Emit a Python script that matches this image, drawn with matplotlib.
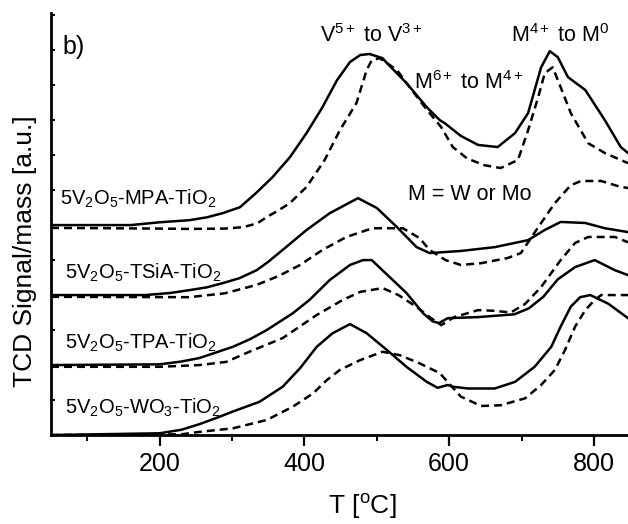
import matplotlib
matplotlib.use('Agg')
import matplotlib.pyplot as plt
from matplotlib.ticker import MultipleLocator, NullFormatter

plt.rcParams['font.family'] = ['Liberation Sans', 'DejaVu Sans']
plt.rcParams['mathtext.fontset'] = 'custom'
plt.rcParams['mathtext.rm'] = 'Liberation Sans'
plt.rcParams['mathtext.it'] = 'Liberation Sans:italic'
plt.rcParams['mathtext.bf'] = 'Liberation Sans:bold'

# TPR profiles (offset traces, arbitrary units)
mpa_x = [50, 160, 200, 241, 265, 287, 311, 334, 356, 380, 403, 425, 445, 463, 477, 490, 508, 514, 541, 569, 587, 594, 616, 640, 667, 691, 709, 727, 739, 750, 764, 788, 815, 837, 847]
mpa_y = [6.0, 6.0, 6.08, 6.14, 6.22, 6.34, 6.51, 6.93, 7.37, 7.94, 8.63, 9.37, 10.14, 10.66, 10.86, 10.89, 10.77, 10.63, 10.06, 9.37, 9.0, 8.91, 8.55, 8.29, 8.23, 8.63, 9.2, 10.51, 10.97, 10.8, 10.23, 9.86, 9.0, 8.23, 8.06]
mpa_dx = [50, 200, 241, 290, 315, 335, 348, 365, 380, 403, 428, 449, 472, 486, 493, 504, 528, 541, 569, 589, 605, 625, 649, 671, 695, 709, 723, 732, 743, 754, 768, 792, 815, 847]
mpa_dy = [5.92, 5.9, 5.89, 5.9, 5.94, 6.05, 6.23, 6.43, 6.63, 7.09, 7.86, 8.71, 9.49, 10.43, 10.71, 10.77, 10.43, 10.06, 9.3, 8.8, 8.23, 7.9, 7.71, 7.63, 7.86, 8.71, 9.66, 10.34, 10.51, 9.94, 9.2, 8.34, 8.06, 7.77]

tsia_x = [50, 180, 215, 241, 265, 287, 310, 334, 350, 370, 403, 435, 474, 500, 528, 555, 573, 616, 663, 709, 732, 754, 788, 815, 847]
tsia_y = [4.0, 4.0, 4.06, 4.14, 4.22, 4.34, 4.48, 4.71, 4.95, 5.29, 5.86, 6.34, 6.77, 6.49, 5.94, 5.37, 5.2, 5.26, 5.37, 5.57, 5.86, 6.09, 6.06, 5.91, 5.8]
tsia_dx = [50, 241, 290, 334, 365, 394, 425, 458, 494, 536, 559, 573, 595, 616, 644, 681, 699, 723, 746, 768, 782, 810, 837, 847]
tsia_dy = [3.95, 3.94, 4.05, 4.29, 4.55, 4.86, 5.29, 5.66, 5.91, 5.91, 5.63, 5.29, 5.0, 4.86, 4.91, 5.06, 5.2, 5.94, 6.63, 7.14, 7.26, 7.26, 7.09, 7.06]

tpa_x = [50, 200, 230, 255, 301, 325, 348, 384, 407, 435, 463, 481, 493, 518, 541, 564, 577, 586, 598, 640, 690, 710, 730, 750, 774, 801, 829, 847]
tpa_y = [2.0, 2.02, 2.1, 2.2, 2.52, 2.74, 3.0, 3.48, 3.86, 4.43, 4.86, 5.0, 5.0, 4.51, 4.06, 3.48, 3.25, 3.2, 3.34, 3.37, 3.45, 3.62, 3.95, 4.45, 4.8, 5.0, 4.71, 4.57]
tpa_dx = [50, 200, 255, 292, 324, 370, 417, 453, 477, 508, 530, 555, 573, 589, 607, 640, 663, 685, 705, 727, 754, 774, 792, 829, 847]
tpa_dy = [1.95, 1.95, 2.0, 2.09, 2.38, 2.77, 3.43, 3.86, 4.09, 4.2, 4.0, 3.66, 3.37, 3.14, 3.37, 3.57, 3.55, 3.5, 3.75, 4.23, 5.0, 5.49, 5.66, 5.66, 5.51]

wo3_x = [50, 200, 230, 255, 280, 301, 338, 370, 394, 417, 439, 463, 486, 514, 541, 569, 584, 598, 605, 626, 663, 691, 718, 741, 754, 768, 781, 795, 820, 847]
wo3_y = [0.0, 0.05, 0.15, 0.31, 0.5, 0.67, 0.95, 1.38, 1.91, 2.52, 2.91, 3.17, 2.91, 2.43, 1.95, 1.52, 1.35, 1.43, 1.38, 1.33, 1.33, 1.52, 1.95, 2.52, 3.1, 3.67, 3.94, 4.0, 3.75, 3.34]
wo3_dx = [50, 230, 255, 301, 348, 384, 412, 431, 449, 477, 508, 532, 559, 587, 616, 644, 671, 705, 727, 746, 760, 774, 788, 801, 810, 847]
wo3_dy = [0.0, 0.02, 0.09, 0.19, 0.43, 0.81, 1.19, 1.57, 1.86, 2.14, 2.38, 2.28, 2.05, 1.77, 1.1, 0.83, 0.85, 1.05, 1.43, 1.86, 2.43, 3.1, 3.57, 3.86, 4.0, 4.0]

samples = ['5V$_2$O$_5$-MPA-TiO$_2$', '5V$_2$O$_5$-TSiA-TiO$_2$',
           '5V$_2$O$_5$-TPA-TiO$_2$', '5V$_2$O$_5$-WO$_3$-TiO$_2$']
sample_pos = [(62, 6.57), (70, 4.46), (70, 2.46), (70, 0.6)]

fig = plt.figure(figsize=(6.28, 5.24), dpi=100)
ax = fig.add_axes([0.0812, 0.1698, 0.9188, 0.8053])

lw = 1.8
dash = (3.2, 2.0)
for sx, sy, dx, dy in [(mpa_x, mpa_y, mpa_dx, mpa_dy), (tsia_x, tsia_y, tsia_dx, tsia_dy),
                       (tpa_x, tpa_y, tpa_dx, tpa_dy), (wo3_x, wo3_y, wo3_dx, wo3_dy)]:
    ax.plot(sx, sy, color='black', lw=lw)
    ax.plot(dx, dy, color='black', lw=lw, ls=(0, dash))

for name, (tx, ty) in zip(samples, sample_pos):
    ax.text(tx, ty, name, fontsize=14.5, ha='left', va='baseline')

ax.text(493, 11.43, 'V$^{5+}$ to V$^{3+}$', fontsize=15.5, ha='center', va='center')
ax.text(753, 11.43, 'M$^{4+}$ to M$^{0}$', fontsize=15.5, ha='center', va='center')
ax.text(627, 10.06, 'M$^{6+}$ to M$^{4+}$', fontsize=15.5, ha='center', va='center')
ax.text(628, 6.86, 'M = W or Mo', fontsize=15.5, ha='center', va='center')
ax.text(66, 10.9, 'b)', fontsize=18, ha='left', va='baseline')

ax.set_xlim(50, 847)
ax.set_ylim(0, 12.06)
ax.xaxis.set_major_locator(MultipleLocator(200))
ax.xaxis.set_minor_locator(MultipleLocator(100))
ax.yaxis.set_major_locator(MultipleLocator(1))
ax.yaxis.set_major_formatter(NullFormatter())
ax.tick_params(axis='x', which='major', direction='out', length=8, width=1.6, labelsize=18, pad=4)
ax.tick_params(axis='x', which='minor', direction='out', length=4.5, width=1.4)
ax.tick_params(axis='y', which='major', direction='in', length=3, width=1.4)

for s in ['top', 'right']:
    ax.spines[s].set_visible(False)
for s in ['left', 'bottom']:
    ax.spines[s].set_linewidth(2)

ax.set_xlabel('T [$^{\\rm o}$C]', fontsize=19)
ax.xaxis.set_label_coords(0.54, -0.17)
ax.set_ylabel('TCD Signal/mass [a.u.]', fontsize=19)
ax.yaxis.set_label_coords(-0.045, 0.436)
ax.xaxis.label.set_va('center')
ax.yaxis.label.set_va('center')

fig.savefig('out.png', dpi=100)
